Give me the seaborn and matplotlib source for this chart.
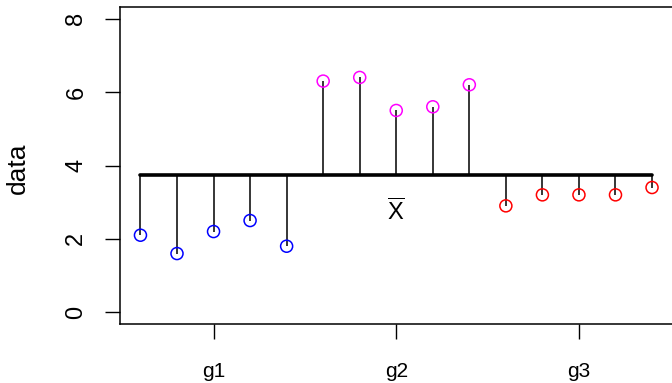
import matplotlib
matplotlib.use("Agg")
import matplotlib.pyplot as plt
import seaborn as sns
import pandas as pd
import numpy as np

groups = ["g1"] * 5 + ["g2"] * 5 + ["g3"] * 5
values = [2.1, 1.6, 2.2, 2.5, 1.8,
          6.3, 6.4, 5.5, 5.6, 6.2,
          2.9, 3.2, 3.2, 3.2, 3.4]
index = list(range(1, 16))
group_labels = ["g1", "g2", "g3"]
group_ticks = [3, 8, 13]
y_ticks = [0, 2, 4, 6, 8]
colors = {"g1": "#0000FF", "g2": "#FF00FF", "g3": "#FF0000"}

df = pd.DataFrame({"index": index, "data": values, "group": groups})
grand_mean = float(np.mean(values))

sns.set_style("ticks")
plt.rcParams["font.family"] = ["Liberation Sans", "DejaVu Sans"]
plt.rcParams["mathtext.fontset"] = "custom"
plt.rcParams["mathtext.rm"] = "Liberation Sans"
plt.rcParams["mathtext.it"] = "Liberation Sans"
plt.rcParams["text.color"] = "black"
plt.rcParams["axes.labelcolor"] = "black"
plt.rcParams["xtick.color"] = "black"
plt.rcParams["ytick.color"] = "black"

fig = plt.figure(figsize=(6.72, 3.83), dpi=100)
ax = fig.add_axes([120 / 672, 1 - 324 / 383, 552.5 / 672, 317 / 383])

ax.vlines(df["index"], grand_mean, df["data"], color="black", linewidth=1.1, zorder=1)
ax.hlines(grand_mean, 1, 15, color="black", linewidth=2.6, zorder=2, capstyle="round")

sns.scatterplot(data=df, x="index", y="data", hue="group", palette=colors,
                marker="o", s=75, linewidth=1.1,
                legend=False, ax=ax, zorder=3)
coll = ax.collections[-1]
fc = coll.get_facecolors()
coll.set_edgecolors(fc)
coll.set_facecolors("none")

ax.text(8, 2.72, r"$\overline{\mathrm{X}}$", ha="center", va="center", fontsize=17)

ax.set_xlim(0.44, 15.56)
ax.set_ylim(-0.32, 8.32)
ax.set_yticks(y_ticks)
ax.set_yticklabels([str(v) for v in y_ticks], rotation=90, va="center")
ax.set_xticks(group_ticks)
ax.set_xticklabels(group_labels)
ax.set_xlabel("")
ax.set_ylabel("data", fontsize=19)
ax.yaxis.set_label_coords(-0.163, 0.49)
ax.tick_params(axis="x", labelsize=15, length=10.5, width=1.0, pad=17)
ax.tick_params(axis="y", labelsize=17, length=10.5, width=1.0, pad=13)
for side in ["left", "bottom", "top"]:
    ax.spines[side].set_linewidth(1.1)
    ax.spines[side].set_color("black")
ax.spines["right"].set_visible(False)

fig.savefig("out.png", dpi=100)
